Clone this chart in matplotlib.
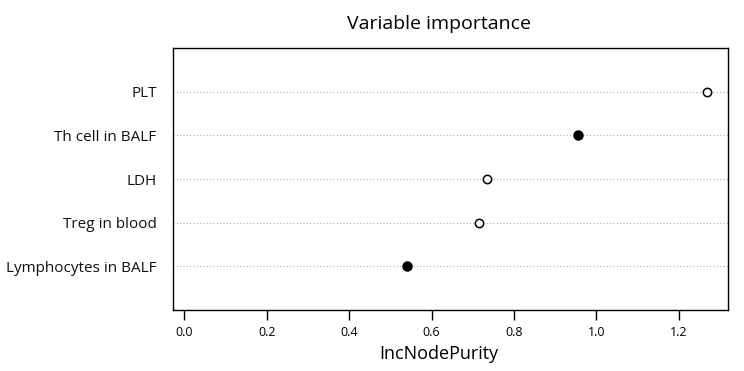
import matplotlib
matplotlib.use('Agg')
import matplotlib.pyplot as plt

# variables from bottom to top
variables = ['Lymphocytes in BALF', 'Treg in blood', 'LDH', 'Th cell in BALF', 'PLT']
purity = [0.540, 0.714, 0.735, 0.956, 1.269]
filled = [True, False, False, True, False]
xticks = [0.0, 0.2, 0.4, 0.6, 0.8, 1.0, 1.2]

plt.rcParams['font.family'] = ['Open Sans', 'DejaVu Sans']

fig = plt.figure(figsize=(7.44, 3.71), dpi=100)
ax = fig.add_axes([0.2329, 0.1652, 0.9785 - 0.2329, 0.8698 - 0.1652])

ypos = list(range(1, len(variables) + 1))
for y, v, f in zip(ypos, purity, filled):
    ax.axhline(y, color='#b0b0b0', linestyle=(0, (1, 2)), linewidth=0.8, zorder=1)
    if f:
        ax.plot(v, y, 'o', ms=6.5, mfc='black', mec='black', zorder=3)
    else:
        ax.plot(v, y, 'o', ms=6, mfc='white', mec='black', mew=1.1, zorder=3)

ax.set_xlim(-0.027, 1.3197)
ax.set_ylim(0, 6)
ax.set_yticks(ypos)
ax.set_yticklabels(variables, fontsize=11, color='#111111')
ax.tick_params(axis='y', length=0, pad=12)
ax.set_xticks(xticks)
ax.set_xticklabels(['%.1f' % t for t in xticks], fontsize=9)
ax.tick_params(axis='x', length=7, width=1, pad=5)
ax.set_xlabel('IncNodePurity', fontsize=13, labelpad=2)
ax.xaxis.set_label_coords(0.479, -0.135)
ax.set_title('Variable importance', fontsize=14, x=0.479, pad=14)
for s in ax.spines.values():
    s.set_linewidth(1)

fig.savefig('out.png', dpi=100)
